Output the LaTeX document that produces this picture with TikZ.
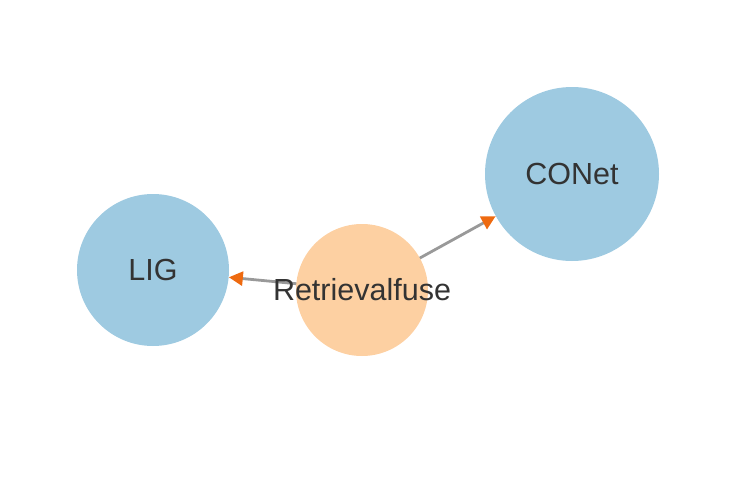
\documentclass[tikz,border=0pt]{standalone}
\usepackage{fontspec}
\setmainfont{Liberation Sans}
\usetikzlibrary{arrows.meta,backgrounds}
\definecolor{nodeblue}{HTML}{9ECAE1}
\definecolor{nodeorange}{HTML}{FDD0A2}
\definecolor{tiporange}{HTML}{EE6A10}
\definecolor{edgegrey}{HTML}{999999}
\definecolor{textgrey}{HTML}{333333}
\begin{document}
\begin{tikzpicture}[x=1pt,y=-1pt]%
  \tikzstyle{bubble}=[circle,inner sep=0,text=textgrey,font=\fontsize{30.5}{30.5}\selectfont]
  \tikzstyle{bluen}=[bubble,fill=nodeblue]
  \tikzstyle{orangen}=[bubble,fill=nodeorange]
  \tikzstyle{link}=[draw=edgegrey,line width=2.8pt,-{Triangle[length=14pt,width=14pt,color=tiporange]}]
  \useasboundingbox (0,0) rectangle (742,482);
  \node(lig)[bluen,minimum size=152pt] at (153,270) {LIG};
  \node(conet)[bluen,minimum size=174pt] at (572,174) {CONet};
  \node(rf)[orangen,minimum size=132pt,
    label={[text=textgrey,font=\fontsize{30.5}{30.5}\selectfont]center:Retrievalfuse}] at (362,290) {};
  \begin{scope}[on background layer]
    \draw[link] (rf.center) -- (lig);
    \draw[link] (rf.center) -- (conet);
  \end{scope}
\end{tikzpicture}
\end{document}
